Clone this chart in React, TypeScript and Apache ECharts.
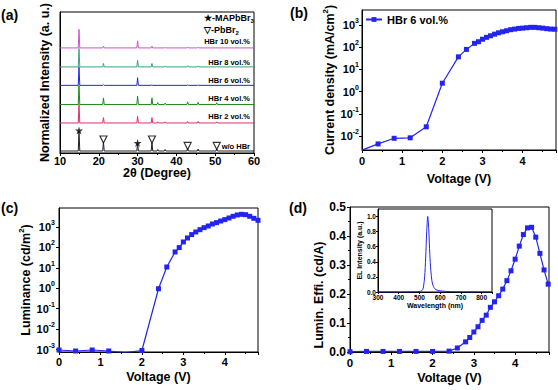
import React, { useEffect, useRef } from 'react';
import * as echarts from 'echarts';

// ---------- (a) XRD ----------
const xrdSamples = ['HBr 10 vol.%', 'HBr 8 vol.%', 'HBr 6 vol.%', 'HBr 4 vol.%', 'HBr 2 vol.%', 'w/o HBr'];
const xrdBaselines = [5.53, 4.53, 3.56, 2.55, 1.58, 0.105];
const xrdPeakPositions = [14.9, 21.2, 30.0, 33.7, 35.2, 37.1, 42.9, 45.6, 50.4];
const xrdPeakHeights = [
  [0.97, 0.09, 0.37, 0.09, 0, 0.03, 0.05, 0.04, 0],
  [0.97, 0.18, 0.35, 0.18, 0, 0.05, 0.06, 0.05, 0.02],
  [0.96, 0.04, 0.4, 0.03, 0, 0, 0.02, 0.02, 0],
  [1.0, 0.35, 0.44, 0.35, 0.1, 0.08, 0.14, 0.12, 0.1],
  [0.98, 0.28, 0.35, 0.28, 0.06, 0.06, 0.08, 0.08, 0.06],
  [1.05, 0.47, 0.4, 0.45, 0.08, 0.08, 0.15, 0.1, 0.12],
];
const xrdColors = ['#d24dd2', '#3ea07e', '#2222ee', '#1a8a1a', '#e0306a', '#222222'];
const starMarks = [[14.9, 1.19], [30.0, 0.53]];
const triangleMarks = [[21.2, 0.71], [33.7, 0.71], [42.9, 0.37], [50.4, 0.37]];

// ---------- (b)(c)(d) device ----------
const voltage = [0, 0.4, 0.8, 1.2, 1.6, 2.0, 2.4, 2.6, 2.8, 2.9, 3.0, 3.1, 3.2, 3.3, 3.4, 3.5, 3.6, 3.7, 3.8, 3.9, 4.0, 4.1, 4.2, 4.3, 4.4, 4.5, 4.6, 4.7, 4.8];
const currentDensity = [0.0023, 0.0044, 0.0079, 0.0083, 0.026, 2.4, 37, 80, 150, 178, 230, 280, 330, 390, 450, 500, 555, 620, 660, 710, 730, 760, 790, 790, 760, 730, 690, 660, 650];
const luminance = [0.00095, 0.00085, 0.00095, 0.00085, 0.0007, 0.0009, 0.95, 11, 60, 98, 185, 290, 425, 570, 740, 930, 1120, 1400, 1640, 1960, 2300, 2760, 3340, 3880, 4170, 4000, 3340, 2660, 2130];
const efficiency = [0.001, 0.002, 0.002, 0.002, 0.002, 0.002, 0.003, 0.014, 0.035, 0.05, 0.069, 0.087, 0.109, 0.127, 0.154, 0.173, 0.194, 0.217, 0.246, 0.28, 0.32, 0.365, 0.405, 0.428, 0.43, 0.396, 0.34, 0.283, 0.234];
const wavelength = [300, 400, 480, 505, 515, 520, 525, 530, 535, 540, 545, 550, 555, 560, 565, 570, 580, 600, 650, 700, 850];
const elIntensity = [0, 0, 0.003, 0.01, 0.03, 0.08, 0.2, 0.45, 0.8, 1.0, 0.82, 0.5, 0.28, 0.15, 0.09, 0.06, 0.03, 0.015, 0.005, 0.002, 0];

const FONT = '"Liberation Sans", Arial, sans-serif';
const BLUE = '#2424f0';
const STAR = 'path://M50,0 L61,35 L98,35 L68,57 L79,91 L50,70 L21,91 L32,57 L2,35 L39,35 Z';

function xrdTrace(base: number, heights: number[]) {
  const pts: number[][] = [[10, base]];
  xrdPeakPositions.forEach((p, i) => {
    const h = heights[i];
    if (h <= 0) return;
    pts.push([p - 0.2, base], [p, base + h], [p + 0.2, base]);
  });
  pts.push([60, base]);
  return pts;
}

const lbl = (size: number) => ({ color: '#000', fontFamily: FONT, fontWeight: 'bold' as const, fontSize: size });
const nameStyle = (size = 12.5) => ({
  color: '#000', fontFamily: FONT, fontWeight: 'bold' as const, fontSize: size,
  rich: {
    n: { color: '#000', fontFamily: FONT, fontWeight: 'bold', fontSize: size, lineHeight: size + 5 },
    s: { color: '#000', fontFamily: FONT, fontWeight: 'bold', fontSize: size * 0.62, verticalAlign: 'top' },
  },
});
const axLine = { show: true, onZero: false, lineStyle: { color: '#000', width: 1 } };
const axTick = { show: true, inside: false, length: 3, lineStyle: { color: '#000', width: 1 } };
const minor = { show: true, splitNumber: 2, length: 2, lineStyle: { color: '#000', width: 1 } };
const logLabel = (v: number) => `{b|10}{s|${Math.round(Math.log10(v))}}`;
const logRich = {
  b: { color: '#000', fontFamily: FONT, fontWeight: 'bold', fontSize: 11, lineHeight: 16 },
  s: { color: '#000', fontFamily: FONT, fontWeight: 'bold', fontSize: 7, verticalAlign: 'top' },
};
const gridBox = { show: true, borderColor: '#000', borderWidth: 1, backgroundColor: 'transparent' };

export default function App() {
  const ref = useRef<HTMLDivElement>(null);
  useEffect(() => {
    if (!ref.current) return;
    const chart = echarts.init(ref.current, undefined, { renderer: 'svg' });
    const xrdSeries = xrdSamples.map((name, i) => ({
      name: 'XRD ' + name,
      type: 'line',
      xAxisIndex: 0,
      yAxisIndex: 0,
      data: xrdTrace(xrdBaselines[i], xrdPeakHeights[i]),
      showSymbol: false,
      symbol: 'none',
      lineStyle: { color: xrdColors[i], width: 1 },
      itemStyle: { color: xrdColors[i] },
      silent: true,
    }));
    const sampleLabelY = [41.7, 62.3, 80.7, 98.3, 116.7, 146];
    const option: any = {
      animation: false,
      textStyle: { fontFamily: FONT, fontWeight: 'bold', color: '#000' },
      grid: [
        { left: 60, top: 12, width: 194, height: 141, ...gridBox },
        { left: 362, top: 10, width: 194, height: 140, ...gridBox },
        { left: 59, top: 208, width: 199, height: 144, ...gridBox },
        { left: 350, top: 207, width: 199, height: 145, ...gridBox },
        { left: 378, top: 209, width: 114, height: 83, ...gridBox, backgroundColor: '#fff' },
      ],
      legend: {
        data: ['HBr 6 vol.%'],
        left: 365, top: 14, padding: 0,
        itemWidth: 16, itemHeight: 6,
        textStyle: { ...lbl(11) },
      },
      xAxis: [
        {
          gridIndex: 0, type: 'value', min: 10, max: 60, interval: 10,
          name: '2θ (Degree)', nameLocation: 'middle', nameGap: 12, nameTextStyle: nameStyle(12.5),
          axisLine: axLine, axisTick: axTick, minorTick: minor, splitLine: { show: false },
          axisLabel: { ...lbl(11), margin: 2 },
        },
        {
          gridIndex: 1, type: 'value', min: 0, max: 4.83, interval: 1,
          name: 'Voltage (V)', nameLocation: 'middle', nameGap: 22, nameTextStyle: nameStyle(12.5),
          axisLine: axLine, axisTick: axTick, minorTick: minor, splitLine: { show: false },
          axisLabel: { ...lbl(11), margin: 5, showMaxLabel: false },
        },
        {
          gridIndex: 2, type: 'value', min: 0, max: 4.8, interval: 1,
          name: 'Voltage (V)', nameLocation: 'middle', nameGap: 18, nameTextStyle: nameStyle(12.5),
          axisLine: axLine, axisTick: axTick, minorTick: minor, splitLine: { show: false },
          axisLabel: { ...lbl(11), margin: 4, showMaxLabel: false },
        },
        {
          gridIndex: 3, type: 'value', min: 0, max: 4.82, interval: 1,
          name: 'Voltage (V)', nameLocation: 'middle', nameGap: 19, nameTextStyle: nameStyle(12.5),
          axisLine: axLine, axisTick: axTick, minorTick: minor, splitLine: { show: false },
          axisLabel: { ...lbl(11.5), margin: 5, showMaxLabel: false },
        },
        {
          gridIndex: 4, type: 'value', min: 300, max: 850, interval: 100,
          name: 'Wavelength (nm)', nameLocation: 'middle', nameGap: 10, nameTextStyle: nameStyle(7),
          axisLine: axLine, axisTick: { ...axTick, length: 2 }, minorTick: { ...minor, length: 1 }, splitLine: { show: false },
          axisLabel: { ...lbl(6.5), margin: 2, showMaxLabel: false },
        },
      ],
      yAxis: [
        {
          gridIndex: 0, type: 'value', min: 0, max: 7.42,
          name: 'Normalized Intensity (a. u.)', nameLocation: 'middle', nameGap: 9, nameTextStyle: nameStyle(12.5),
          axisLine: axLine, axisTick: { show: false }, axisLabel: { show: false }, splitLine: { show: false },
        },
        {
          gridIndex: 1, type: 'log', logBase: 10, min: Math.pow(10, -2.63), max: Math.pow(10, 3.68),
          name: '{n|Current density (mA/cm}{s|2}{n|)}', nameLocation: 'middle', nameGap: 22, nameTextStyle: nameStyle(12.5),
          axisLine: axLine, axisTick: axTick, splitLine: { show: false },
          axisLabel: { formatter: logLabel, rich: logRich, margin: 3, showMinLabel: false, showMaxLabel: false },
        },
        {
          gridIndex: 2, type: 'log', logBase: 10, min: Math.pow(10, -3.12), max: Math.pow(10, 3.93),
          name: '{n|Luminance (cd/m}{s|2}{n|)}', nameLocation: 'middle', nameGap: 20, nameTextStyle: nameStyle(12.5),
          axisLine: axLine, axisTick: axTick, splitLine: { show: false },
          axisLabel: { formatter: logLabel, rich: logRich, margin: 4, showMinLabel: false, showMaxLabel: false },
        },
        {
          gridIndex: 3, type: 'value', min: 0, max: 0.5, interval: 0.1,
          axisLine: axLine, axisTick: axTick, minorTick: minor, splitLine: { show: false },
          axisLabel: { ...lbl(12), margin: 4, formatter: (v: number) => v.toFixed(1) },
        },
        {
          gridIndex: 4, type: 'value', min: 0, max: 1.1, interval: 0.2,
          name: 'EL Intensity (a.u.)', nameLocation: 'middle', nameGap: 15, nameTextStyle: nameStyle(7),
          axisLine: axLine, axisTick: { ...axTick, length: 2 }, splitLine: { show: false },
          axisLabel: { ...lbl(6.5), margin: 2, showMaxLabel: false, formatter: (v: number) => v.toFixed(1) },
        },
      ],
      series: [
        ...xrdSeries,
        {
          name: 'MAPbBr3 marks', type: 'scatter', xAxisIndex: 0, yAxisIndex: 0, data: starMarks,
          symbol: STAR, symbolSize: 8, itemStyle: { color: '#000' }, silent: true, z: 5,
        },
        {
          name: 'PbBr2 marks', type: 'scatter', xAxisIndex: 0, yAxisIndex: 0, data: triangleMarks,
          symbol: 'triangle', symbolRotate: 180, symbolSize: 7,
          itemStyle: { color: '#fff', borderColor: '#000', borderWidth: 1.2 }, silent: true, z: 5,
        },
        {
          name: 'HBr 6 vol.%', type: 'line', xAxisIndex: 1, yAxisIndex: 1,
          data: voltage.map((v, i) => [v, currentDensity[i]]),
          symbol: 'rect', symbolSize: 5, lineStyle: { color: BLUE, width: 1.2 }, itemStyle: { color: BLUE },
        },
        {
          name: 'Luminance', type: 'line', xAxisIndex: 2, yAxisIndex: 2,
          data: voltage.map((v, i) => [v, luminance[i]]),
          symbol: 'rect', symbolSize: 5, lineStyle: { color: BLUE, width: 1.2 }, itemStyle: { color: BLUE },
        },
        {
          name: 'Efficiency', type: 'line', xAxisIndex: 3, yAxisIndex: 3,
          data: voltage.map((v, i) => [v, efficiency[i]]),
          symbol: 'rect', symbolSize: 5, lineStyle: { color: BLUE, width: 1.2 }, itemStyle: { color: BLUE },
        },
        {
          name: 'EL', type: 'line', xAxisIndex: 4, yAxisIndex: 4,
          data: wavelength.map((w, i) => [w, elIntensity[i]]),
          showSymbol: false, symbol: 'none', smooth: 0.3, lineStyle: { color: BLUE, width: 1 }, z: 6,
        },
      ],
      graphic: [
        { type: 'text', x: 1, y: 8, style: { text: '(a)', font: `bold 14px ${FONT}`, fill: '#000' } },
        { type: 'text', x: 290, y: 6, style: { text: '(b)', font: `bold 14px ${FONT}`, fill: '#000' } },
        { type: 'text', x: 1, y: 201, style: { text: '(c)', font: `bold 14px ${FONT}`, fill: '#000' } },
        { type: 'text', x: 289, y: 201, style: { text: '(d)', font: `bold 14px ${FONT}`, fill: '#000' } },
        {
          type: 'text', x: 319, y: 295, rotation: Math.PI / 2,
          style: { text: 'Lumin. Effi. (cd/A)', font: `bold 12.5px ${FONT}`, fill: '#000', align: 'center', verticalAlign: 'middle', textAlign: 'center', textVerticalAlign: 'middle' },
        },
        {
          type: 'text', x: 204, y: 18,
          style: {
            text: '{a|★-MAPbBr}{b|3}', verticalAlign: 'middle', textVerticalAlign: 'middle',
            rich: {
              a: { fontFamily: FONT, fontWeight: 'bold', fontSize: 9, lineHeight: 12, fill: '#000', color: '#000' },
              b: { fontFamily: FONT, fontWeight: 'bold', fontSize: 6, verticalAlign: 'bottom', fill: '#000', color: '#000' },
            },
          },
        },
        {
          type: 'text', x: 204, y: 30,
          style: {
            text: '{a|▽-PbBr}{b|2}', verticalAlign: 'middle', textVerticalAlign: 'middle',
            rich: {
              a: { fontFamily: FONT, fontWeight: 'bold', fontSize: 9, lineHeight: 12, fill: '#000', color: '#000' },
              b: { fontFamily: FONT, fontWeight: 'bold', fontSize: 6, verticalAlign: 'bottom', fill: '#000', color: '#000' },
            },
          },
        },
        ...xrdSamples.map((s, i) => ({
          type: 'text', x: 250, y: sampleLabelY[i],
          style: { text: s, font: `bold 7.5px ${FONT}`, fill: '#000', align: 'right', verticalAlign: 'middle', textAlign: 'right', textVerticalAlign: 'middle' },
        })),
      ],
    };
    chart.setOption(option);
    return () => chart.dispose();
  }, []);
  return <div ref={ref} style={{ position: 'absolute', left: 0, top: 0, width: 558, height: 390, background: '#fff' }} />;
}
